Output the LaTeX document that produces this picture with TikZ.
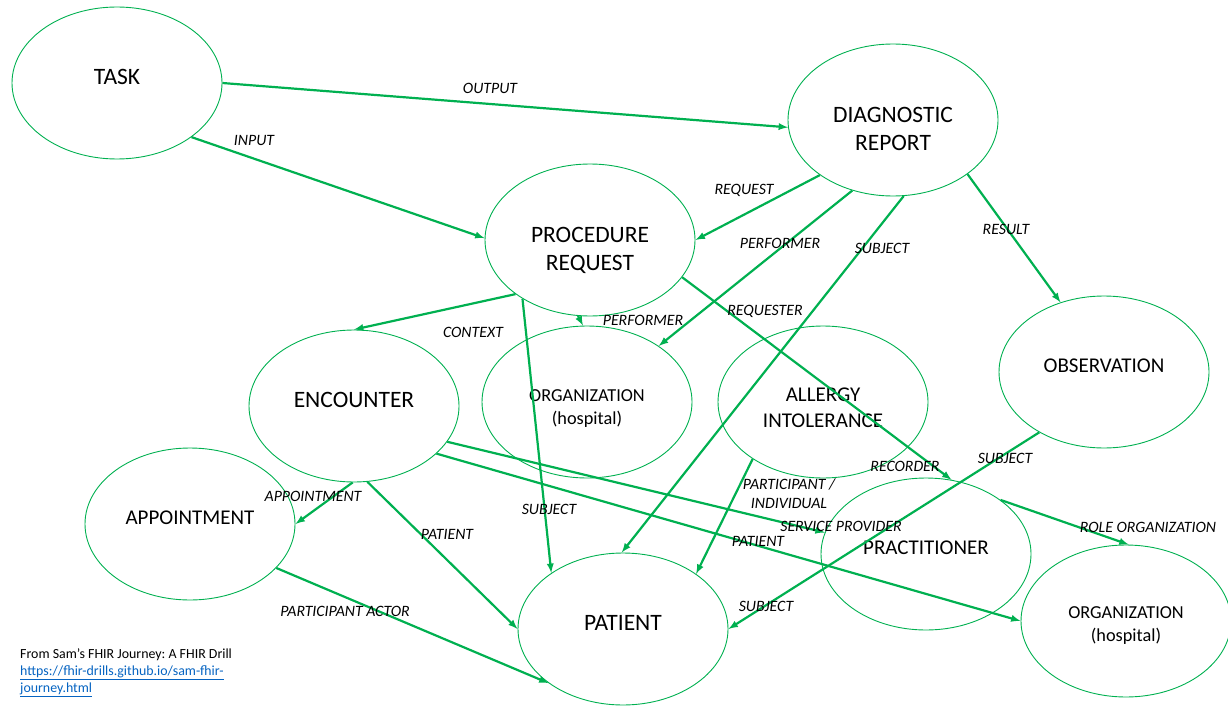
\documentclass[tikz,border=0pt]{standalone}
\usepackage{fontspec}
\setmainfont{Carlito}
\frenchspacing
\usetikzlibrary{shapes,arrows}
\definecolor{fhirgreen}{RGB}{0,176,80}
\definecolor{linkblue}{RGB}{5,99,193}
\tikzset{
	entity/.style    = {draw=fhirgreen, line width=0.9pt, ellipse, minimum width=210pt,
		minimum height=152pt, inner sep=0pt, align=center,
		font=\fontsize{23.5}{28}\selectfont},
	single/.style    = {entity, text depth=12pt},
	narrow/.style    = {font=\fontsize{21}{26}\selectfont},
	org/.style       = {entity, font=\fontsize{18.3}{23}\selectfont},
	edgelabel/.style = {font=\itshape\fontsize{15.8}{19}\selectfont, align=center, inner sep=0pt},
	rel/.style       = {->, draw=fhirgreen, line width=2.2pt}
}
\newcommand{\topgap}[1]{\rule{0pt}{#1}}

\begin{document}
\begin{tikzpicture}[x=1pt, y=-1pt, >=latex]
	\useasboundingbox (0,0) rectangle (1228,706);
	\draw
	node at (117,83) [single] (task) {TASK}
	node at (893,120) [entity] (diag) {\topgap{33pt}DIAGNOSTIC\\REPORT}
	node at (590,240) [entity] (proc) {\topgap{37pt}PROCEDURE\\REQUEST}
	node at (354,406) [single] (enc) {ENCOUNTER}
	node at (587,402) [org] (orgA) {\topgap{24pt}ORGANIZATION\\(hospital)}
	node at (823,402) [entity, narrow] (allergy) {\topgap{26pt}ALLERGY\\INTOLERANCE}
	node at (1104,372) [single, narrow] (obs) {OBSERVATION}
	node at (190,524) [single, narrow] (appt) {APPOINTMENT}
	node at (623,629) [single] (patient) {PATIENT}
	node at (926,554) [single, narrow] (prac) {PRACTITIONER}
	node at (1126,621) [org] (orgB) {\topgap{20pt}ORGANIZATION\\(hospital)};
	
	\draw[rel] (task.east)--(diag.184);
	\draw[rel] (task.-36)--(proc.179);
	\draw[rel] (diag.-143)--(proc.east);
	\draw[rel] (diag.-120)--(orgA.38);
	\draw[rel] (diag.-82)--(patient.91);
	\draw[rel] (diag.-36)--(obs.122);
	\draw[rel] (proc.-144)--(enc.north);
	\draw[rel] (proc.-99)--(orgA.93);
	\draw[rel] (proc.-139)--(patient.142);
	\draw[rel] (proc.-22)--(prac.71);
	\draw[rel] (obs.-137)--(patient.east);
	\draw[rel] (allergy.-141)--(patient.37);
	\draw[rel] (enc.-91)--(appt.east);
	\draw[rel] (enc.-80)--(patient.west);
	\draw[rel] (enc.-21)--(prac.168);
	\draw[rel] (enc.-30)--(orgB.west);
	\draw[rel] (appt.-27)--(patient.-144);
	\draw[rel] (prac.36)--(orgB.88);
	
	\node[edgelabel] (lOutput) at (490,88) {OUTPUT};
	\node[edgelabel] (lInput) at (254,140) {INPUT};
	\node[edgelabel] (lRequest) at (744,190) {REQUEST};
	\node[edgelabel] (lPerformerA) at (780,243) {PERFORMER};
	\node[edgelabel] (lSubjectA) at (882,248) {SUBJECT};
	\node[edgelabel] (lResult) at (1006,229) {RESULT};
	\node[edgelabel] (lContext) at (473,332) {CONTEXT};
	\node[edgelabel] (lPerformerB) at (643,320) {PERFORMER};
	\node[edgelabel] (lRequester) at (765,311) {REQUESTER};
	\node[edgelabel] (lRecorder) at (905,466) {RECORDER};
	\node[edgelabel] (lSubjectB) at (1005,458) {SUBJECT};
	\node[edgelabel] (lIndividual) at (789,494) {PARTICIPANT /\\INDIVIDUAL};
	\node[edgelabel] (lService) at (841,526) {SERVICE PROVIDER};
	\node[edgelabel] (lPatientA) at (758,541) {PATIENT};
	\node[edgelabel] (lSubjectC) at (766,606) {SUBJECT};
	\node[edgelabel] (lRole) at (1148,527) {ROLE ORGANIZATION};
	\node[edgelabel] (lAppt) at (313,496) {APPOINTMENT};
	\node[edgelabel] (lPatientB) at (447,534) {PATIENT};
	\node[edgelabel] (lSubjectD) at (549,509) {SUBJECT};
	\node[edgelabel] (lActor) at (345,611) {PARTICIPANT ACTOR};
	
	\node[anchor=north west, align=left, inner sep=0pt,
		font=\fontsize{13.9}{17}\selectfont] (source) at (20,648)
		{From Sam’s FHIR Journey: A FHIR Drill\\
		\textcolor{linkblue}{\underline{https://fhir-drills.github.io/sam-fhir-}}\\
		\textcolor{linkblue}{\underline{journey.html}}};
\end{tikzpicture}
\end{document}
